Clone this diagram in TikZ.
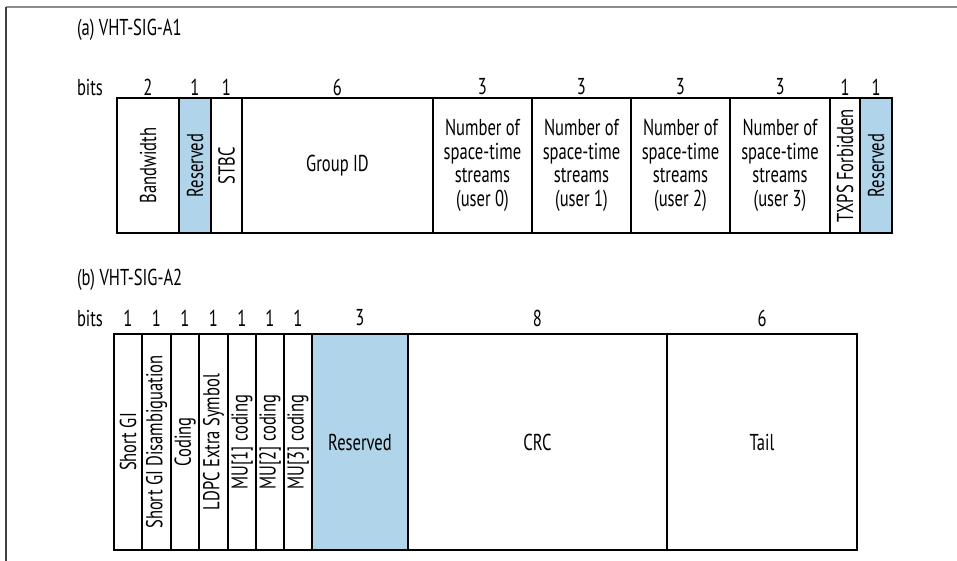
\documentclass[tikz,border=0pt]{standalone}
\usepackage{fontspec}
\setmainfont{PT Sans}[FakeStretch=0.72]
\usepackage{graphicx}
\definecolor{resblue}{RGB}{176,212,234}
\begin{document}
\begin{tikzpicture}[x=1pt,y=-1pt,
  every node/.style={font=\fontsize{23}{23.5}\selectfont, inner sep=0pt, outer sep=0pt},
  fa/.style={draw, line width=2pt, anchor=north west, minimum height=135pt, align=center},
  fb/.style={draw, line width=2pt, anchor=north west, minimum height=216pt, align=center},
  res/.style={fill=resblue},
  num/.style={anchor=center},
  ttl/.style={anchor=west}]
\useasboundingbox (0,0) rectangle (957,561);
\draw[line width=2pt, color=black!45] (957,7) -- (6,7);
\draw[line width=2pt, color=black!75] (6,7) -- (6,561);

% (a)
\node[ttl] (ta) at (77,30) {(a) VHT-SIG-A1};
\node[ttl] (bitsa) at (77,87) {bits};
\node[fa, minimum width=62pt] (a1) at (117,98) {\rotatebox{90}{Bandwidth}};
\node[fa, res, minimum width=32pt] (a2) at (179,98) {\rotatebox{90}{Reserved}};
\node[fa, minimum width=31pt] (a3) at (211,98) {\rotatebox{90}{STBC}};
\node[fa, minimum width=191pt] (a4) at (242,98) {Group ID};
\node[fa, minimum width=99pt] (a5) at (433,98) {Number of\\space-time\\streams\\(user 0)};
\node[fa, minimum width=99pt] (a6) at (532,98) {Number of\\space-time\\streams\\(user 1)};
\node[fa, minimum width=99pt] (a7) at (631,98) {Number of\\space-time\\streams\\(user 2)};
\node[fa, minimum width=100pt] (a8) at (730,98) {Number of\\space-time\\streams\\(user 3)};
\node[fa, minimum width=30pt] (a9) at (830,98) {\rotatebox{90}{TXPS Forbidden}};
\node[fa, res, minimum width=32pt] (a10) at (860,98) {\rotatebox{90}{Reserved}};
\foreach \n/\t in {a1/2,a2/1,a3/1,a4/6,a5/3,a6/3,a7/3,a8/3,a9/1,a10/1}
  \node[num] (n\n) at (\n.north |- 0,87) {\t};

% (b)
\node[ttl] (tb) at (77,280) {(b) VHT-SIG-A2};
\node[ttl] (bitsb) at (77,318) {bits};
\node[fb, minimum width=28pt] (b1) at (114,334) {\rotatebox{90}{Short GI}};
\node[fb, minimum width=29pt] (b2) at (142,334) {\rotatebox{90}{Short GI Disambiguation}};
\node[fb, minimum width=28pt] (b3) at (171,334) {\rotatebox{90}{Coding}};
\node[fb, minimum width=29pt] (b4) at (199,334) {\rotatebox{90}{LDPC Extra Symbol}};
\node[fb, minimum width=28pt] (b5) at (228,334) {\rotatebox{90}{MU[1] coding}};
\node[fb, minimum width=28pt] (b6) at (256,334) {\rotatebox{90}{MU[2] coding}};
\node[fb, minimum width=28pt] (b7) at (284,334) {\rotatebox{90}{MU[3] coding}};
\node[fb, res, minimum width=96pt] (b8) at (312,334) {Reserved};
\node[fb, minimum width=259pt] (b9) at (408,334) {CRC};
\node[fb, minimum width=190pt] (b10) at (667,334) {Tail};
\foreach \n/\t in {b1/1,b2/1,b3/1,b4/1,b5/1,b6/1,b7/1,b8/3,b9/8,b10/6}
  \node[num] (n\n) at (\n.north |- 0,318) {\t};
\end{tikzpicture}
\end{document}
